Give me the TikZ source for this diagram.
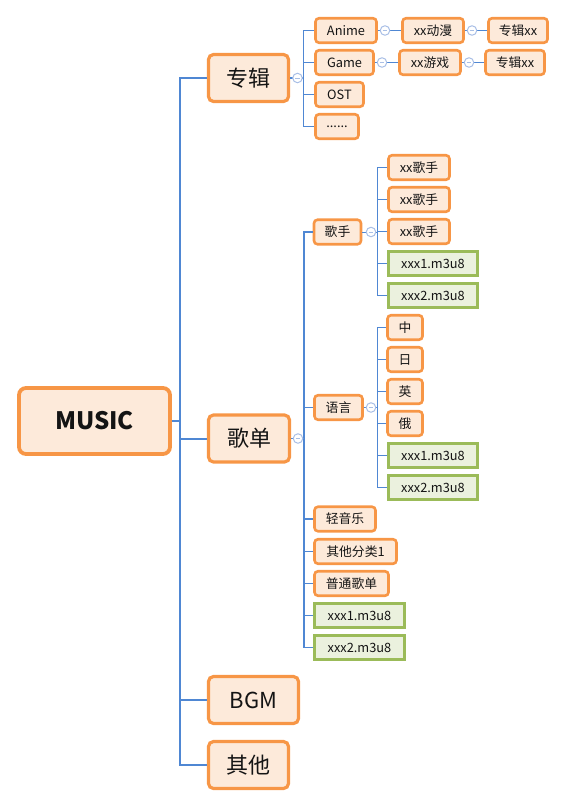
\documentclass[tikz,border=0pt]{standalone}
\usepackage{fontspec}
\setmainfont{Noto Sans CJK SC}
\definecolor{obord}{HTML}{F79646}
\definecolor{ofill}{HTML}{FDEADA}
\definecolor{gbord}{HTML}{9BBB59}
\definecolor{gfill}{HTML}{EBF1DE}
\definecolor{bline}{HTML}{4F87D3}
\definecolor{bcirc}{HTML}{A9BFE6}
\definecolor{txt}{HTML}{141414}
\tikzset{
  obox/.style={draw=obord, fill=ofill, line width=2.6pt, rounded corners=3.5pt, inner sep=0pt, minimum height=24.5pt, text=txt, font=\fontsize{12.8}{14}\selectfont},
  gbox/.style={draw=gbord, fill=gfill, line width=2.6pt, inner sep=0pt, minimum height=24.5pt, text=txt, font=\fontsize{12.8}{14}\selectfont},
  bigbox/.style={draw=obord, fill=ofill, line width=3.2pt, rounded corners=5pt, inner sep=0pt, minimum height=47pt, text=txt, font=\fontsize{22}{26}\selectfont},
  musicbox/.style={draw=obord, fill=ofill, line width=3.8pt, rounded corners=7pt, inner sep=0pt, minimum height=66pt, minimum width=151pt, text=txt, font=\fontsize{24}{28}\selectfont\bfseries},
  lmain/.style={draw=bline, line width=2pt},
  lsub/.style={draw=bline, line width=1.5pt},
  lfine/.style={draw=bline, line width=1pt},
  ccirc/.style={draw=bcirc, fill=white, line width=1pt, circle, minimum size=9.5pt, inner sep=0pt, path picture={\draw[bcirc, line width=1pt] ([xshift=-2.3pt]path picture bounding box.center) -- ([xshift=2.3pt]path picture bounding box.center);}},
}
\begin{document}
\begin{tikzpicture}[x=1pt,y=-1pt]
\useasboundingbox (0,0) rectangle (569,808);
% root
\node[musicbox] (music) at (94.5,421) {MUSIC};
\node[bigbox, minimum width=80pt] (zj) at (248.5,78) {专辑};
\node[bigbox, minimum width=81pt] (gd) at (249,438.5) {歌单};
\node[bigbox, minimum width=90pt] (bgm) at (253.5,700) {BGM};
\node[bigbox, minimum width=80pt] (qt) at (248.5,765) {其他};
\coordinate (j0) at (180,421);
\draw[lmain] (music.east) -- (j0);
\foreach \n in {zj,gd,bgm,qt} \draw[lmain] (j0) |- (\n.west);
% 专辑 children
\node[obox, minimum width=61pt] (anime) at (346,30.5) {Anime};
\node[obox, minimum width=58pt] (game) at (344.5,62.5) {Game};
\node[obox, minimum width=48pt] (ost) at (339.5,94.5) {OST};
\node[obox, minimum width=43pt] (dots) at (337,126.5) {......};
\node[obox, minimum width=61pt] (dm) at (433,30.5) {xx动漫};
\node[obox, minimum width=59pt] (zx1) at (518,30.5) {专辑xx};
\node[obox, minimum width=61pt] (yx) at (430,62.5) {xx游戏};
\node[obox, minimum width=59pt] (zx2) at (515,62.5) {专辑xx};
\coordinate (j1) at (303.5,78);
\draw[lsub] (zj.east) -- (j1);
\foreach \n in {anime,game,ost,dots} \draw[lsub] (j1) |- (\n.west);
\draw[lfine] (anime.east) -- (dm.west);
\draw[lfine] (dm.east) -- (zx1.west);
\draw[lfine] (game.east) -- (yx.west);
\draw[lfine] (yx.east) -- (zx2.west);
\node[ccirc] (c1) at (297.5,78) {};
\node[ccirc] (c2) at (385,30.5) {};
\node[ccirc] (c3) at (472,30.5) {};
\node[ccirc] (c4) at (382,62.5) {};
\node[ccirc] (c5) at (469,62.5) {};
% 歌单 children
\node[obox, minimum width=47pt] (gs) at (337.5,232) {歌手};
\node[obox, minimum width=48pt] (yy) at (338.5,407.5) {语言};
\node[obox, minimum width=61pt] (qyy) at (345,519) {轻音乐};
\node[obox, minimum width=82pt] (qtfl) at (355.5,551.5) {其他分类1};
\node[obox, minimum width=74pt] (ptgd) at (351.5,583.5) {普通歌单};
\node[gbox, minimum width=90pt] (m1) at (359.5,615.5) {xxx1.m3u8};
\node[gbox, minimum width=90pt] (m2) at (359.5,647.5) {xxx2.m3u8};
\coordinate (j2) at (304,438.5);
\draw[lsub] (gd.east) -- (j2);
\foreach \n in {gs,yy,qyy,qtfl,ptgd,m1,m2} \draw[lsub] (j2) |- (\n.west);
\node[ccirc] (c6) at (298,438.5) {};
% 歌手 children
\node[obox, minimum width=61pt] (g1) at (419,167.5) {xx歌手};
\node[obox, minimum width=61pt] (g2) at (419,199.5) {xx歌手};
\node[obox, minimum width=61pt] (g3) at (419,231.5) {xx歌手};
\node[gbox, minimum width=89pt] (g4) at (433,263.5) {xxx1.m3u8};
\node[gbox, minimum width=89pt] (g5) at (433,295.5) {xxx2.m3u8};
\coordinate (j3) at (377,232);
\draw[lfine] (gs.east) -- (j3);
\foreach \n in {g1,g2,g3,g4,g5} \draw[lfine] (j3) |- (\n.west);
\node[ccirc] (c7) at (371,232) {};
% 语言 children
\node[obox, minimum width=35pt] (l1) at (405,327.5) {中};
\node[obox, minimum width=35pt] (l2) at (405,359.5) {日};
\node[obox, minimum width=35pt] (l3) at (405,391.5) {英};
\node[obox, minimum width=35pt] (l4) at (405,423.5) {俄};
\node[gbox, minimum width=89pt] (l5) at (433,455.5) {xxx1.m3u8};
\node[gbox, minimum width=89pt] (l6) at (433,487.5) {xxx2.m3u8};
\coordinate (j4) at (377,407.5);
\draw[lfine] (yy.east) -- (j4);
\foreach \n in {l1,l2,l3,l4,l5,l6} \draw[lfine] (j4) |- (\n.west);
\node[ccirc] (c8) at (371,407.5) {};
\end{tikzpicture}
\end{document}
